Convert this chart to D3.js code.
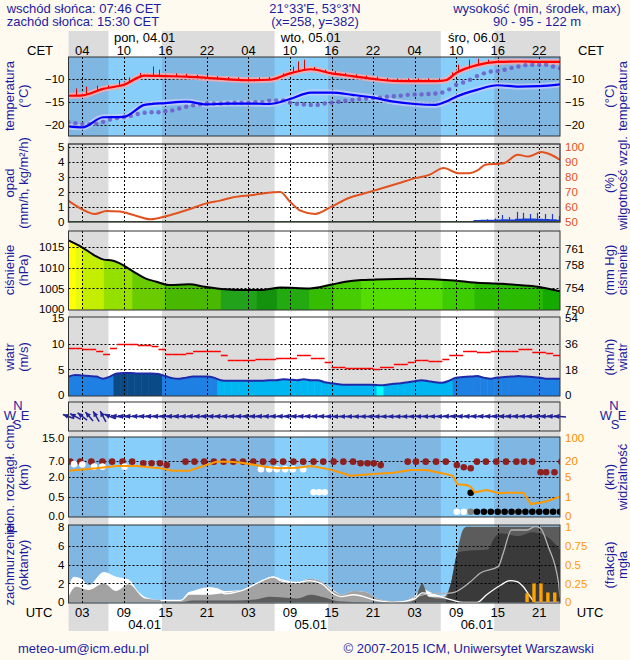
<!DOCTYPE html>
<html><head><meta charset="utf-8">
<script src="https://d3js.org/d3.v7.min.js"></script>
<style>body{margin:0;background:#fffaf0;} svg{display:block;}</style>
</head><body>
<svg id="c" width="630" height="660"></svg>
<script>
// ---------------- DATA ----------------
const hourTicks=[3,9,15,21,27,33,39,45,51,57,63,69];
const cetLabels=["04","10","16","22","04","10","16","22","04","10","16","22"];
const utcLabels=["03","09","15","21","03","09","15","21","03","09","15","21"];
const dayNoonHours=[12,36,60];
const dayNamesTop=["pon, 04.01","wto, 05.01","śro, 06.01"];
const dayNamesBottom=["04.01","05.01","06.01"];
const daylight=[[6.77,14.5],[30.77,38.5],[54.77,62.5]];

// temperature (°C)
const tempHours=[1,3,6,9,12,15,18,21,24,27,30,33,36,39,42,45,48,51,54,55.5,57,60,63,66,69,72];
const temp2m=[-13.6,-13.5,-12.1,-11.2,-9.2,-9.3,-9.4,-9.7,-10.0,-10.2,-10.1,-8.7,-7.8,-8.7,-9.3,-9.9,-10.35,-10.4,-10.4,-10.2,-8.6,-6.9,-6.2,-6.1,-6.2,-6.2];
const tempDew=[-20.3,-20.5,-18.3,-18.2,-15.6,-15.2,-14.9,-15.5,-15.3,-15.3,-15.4,-14.3,-12.9,-12.9,-13.4,-14.0,-14.9,-15.4,-15.6,-14.9,-13.8,-12.3,-11.3,-11.6,-11.5,-11.1];
const tempMaxHours=[2.1,3.6,5.1,6.7,8.3,9.8,11.3,13.2,14.1,16.5,18,19.5,21,22.5,24,25.5,27,28.5,30,32,33.5,34.2,35,36.5,38,39.5,41,42.5,44,45.5,47,48.5,50,51.5,53,54.5,56.4,57.3,58.8,60.2,61.6,63];
const tempMax=[-12.0,-11.6,-11.4,-11.3,-10.2,-9.6,-8.6,-7.2,-7.9,-8.7,-8.8,-9.0,-9.1,-9.3,-9.5,-9.6,-9.6,-9.6,-9.5,-8.7,-7.2,-6.1,-5.7,-7.3,-7.9,-8.2,-8.6,-8.9,-9.2,-9.4,-9.7,-9.8,-9.8,-9.8,-9.8,-9.8,-8.5,-6.8,-5.7,-5.5,-5.7,-5.8];
const tempGround=[-19.4,-19.6,-19.8,-19.8,-19.7,-19.3,-18.8,-18.5,-18.3,-18.0,-17.6,-17.3,-17.2,-17.2,-17.0,-16.8,-16.4,-16.0,-15.7,-15.5,-15.3,-15.3,-15.3,-15.2,-15.1,-15.1,-15.1,-15.0,-15.0,-14.7,-14.6,-14.6,-15.1,-15.4,-15.5,-15.6,-15.6,-15.3,-15.1,-14.9,-14.7,-14.5,-14.3,-14.2,-14.1,-14.0,-13.8,-13.7,-13.6,-13.4,-13.3,-13.3,-13.2,-13.1,-12.9,-12.2,-11.2,-10.7,-10.1,-9.3,-8.7,-8.3,-8.2,-7.9,-7.5,-7.2,-6.9,-6.8,-6.8,-6.8,-7.2,-7.6];

// precipitation (mm/h) and relative humidity (%)
const rhHours=[1,2.7,4.8,6.5,8.4,10.4,12.8,15.2,18.1,21,22.9,24.8,27.7,30.6,31.6,33,34.5,36.6,39,41.4,43.8,46.3,48.7,51.1,53.1,55.2,57.3,58.8,60.2,61.2,63.9,65.9,67.4,69.3,70.7,72];
const rhValues=[63.7,58.8,55.0,57.0,56.6,54.3,51.5,53.7,57.7,62.2,63.9,66.2,67.7,69.5,69.7,63.2,57.2,55.0,59.9,65.5,68.8,72.2,75.5,78.9,81.1,85.6,82.2,82.2,84.4,87.8,88.9,94.5,93.3,96.3,94.5,91.1];
const precipHours=[55,56,57,58,59,60,61,62,63,64,65,66,67,68,69,70,71,72];
const precipMean=[0.03,0,0.03,0.02,0.03,0.1,0.12,0.12,0.13,0.15,0.13,0.18,0.2,0.2,0.18,0.16,0.15,0.12];
const precipMaxHours=[61.5,62.6,63.6,64.7,65.8,66.7,67.7,68.7,69.9,70.8,71.8];
const precipMax=[0.15,0.2,0.43,0.3,0.65,0.59,0.5,0.59,0.5,0.5,0.37];

// pressure (hPa)
const pressHours=[1,2.9,5,6.1,7.3,8.4,10.8,12.1,13.7,15.5,18.4,20.7,23.6,26,28.8,31.7,35.8,38.7,41,43.3,45,50.4,56.7,59.6,63.6,66,68.8,72];
const pressValues=[1016.5,1014.9,1012.7,1011.9,1011.7,1011.0,1008.6,1007.4,1006.6,1005.8,1006.0,1005.4,1004.8,1004.6,1004.6,1005.2,1005.0,1005.8,1006.6,1007.0,1007.1,1007.3,1006.9,1006.4,1006.1,1005.8,1005.4,1004.3];
const pressClassHours=[1,2.1,3.0,6.1,10.2,14.9,23.0,28.2,31.1,35.8,39.3,43.3,55,59.6,69.5];
const pressClass=[0,1,2,3,4,5,6,7,6,5,4,3,4,5,6];

// wind (m/s), hourly
const windGust=[9.1,9.1,8.9,8.9,8.7,8.1,9.1,9.9,9.9,9.9,9.8,9.8,9.5,8.9,8.1,8.1,8.1,8.3,8.7,8.7,8.7,8.7,7.8,6.8,6.8,6.8,6.8,7.1,7.1,7.1,7.3,7.3,7.3,7.8,7.8,7.2,7.2,6.4,5.5,5.5,5.2,5.2,5.2,5.2,5.0,5.5,5.5,6.0,6.0,6.4,6.9,6.9,6.7,6.7,7.1,7.8,7.8,8.7,8.7,8.4,8.4,8.7,8.7,8.7,8.7,8.9,8.9,8.5,8.5,8.2,7.9];
const windMean=[3.6,3.9,3.8,3.7,3.6,3.2,3.6,4.2,4.3,4.3,4.2,4.2,4.2,4.1,3.7,3.3,3.2,3.4,3.6,3.6,3.6,3.4,2.9,2.8,2.8,2.8,2.8,2.8,2.8,2.9,2.9,3.1,3.0,2.9,3.1,2.9,2.9,2.5,2.3,2.1,2.0,2.0,2.0,2.0,2.0,1.9,2.0,2.2,2.3,2.5,2.7,2.9,2.7,2.5,2.4,2.8,3.4,3.5,3.6,3.7,3.4,3.2,3.4,3.5,3.6,3.7,3.6,3.5,3.4,3.2,3.2,3.2];
const windDir=[110,118,128,140,150,152,112,100,98,96,95,95,95,95,95,95,95,95,95,95,95,95,95,95,95,95,95,95,95,95,95,95,95,95,95,95,95,95,92,90,90,90,90,90,90,90,90,90,90,90,90,92,92,92,92,95,95,95,95,95,95,95,95,95,95,95,95,95,95,95,95,95];

// visibility (km) and cloud vertical extent dots (km)
const visHours=[1,5,7.9,10.8,14.3,16,18.4,19.5,22.4,24.2,26,29.4,31.2,34,36.1,38.7,41.1,41.6,45.1,48,50.4,52.7,53.9,55.6,56.5,57.2,58.5,59.1,59.7,61.4,63.2,64.3,66.7,67.8,69.8,72];
const visKm=[10.7,13.0,15.2,15.2,13.0,10.7,10.7,13.0,19.4,19.4,18.4,14.6,13.0,13.6,15.2,12.0,7.3,5.9,7.6,8.8,11.4,11.4,9.8,7.3,5.9,3.48,3.34,3.0,1.88,2.34,1.68,1.8,1.8,0.62,0.74,1.0];
const cloudTopDots=[[1.26,6.8],[2.7,6.8],[4.3,6.8],[5.9,6.8],[7.3,6.8],[8.8,6.8],[10.2,6.8],[11.8,6.3],[13.0,6.3],[14.2,6.3],[15.2,5.7],
 [17.9,6.8],[19.2,6.8],[20.6,6.8],[22,6.8],[23.4,6.8],[24.8,6.8],[26.2,6.8],[27.7,6.8],[29.1,6.8],[30.6,6.8],[32,6.8],[33.5,6.8],[34.9,6.8],[36.4,6.8],[37.8,6.8],[39.3,6.8],[40.7,6.8],[42.1,6.8],[43.2,6.3],[44.2,6.3],[45.1,6.3],[46.1,5.7],
 [50,6.8],[51.2,6.8],[52.6,6.8],[54.1,6.8],[55.5,6.8],[57.1,5.7],[58.1,5.0],[59.1,4.7],
 [60,6.8],[61.3,6.8],[62.8,6.8],[64.2,6.8],[65.7,6.8],[66.8,6.8],[68,6.8],[69.2,3.4],[70,3.4],[71.2,3.4],[72.2,6.8]];
const cloudWhiteDots=[[1.8,6.0],[3.0,5.9],[4.7,5.2],[5.9,5.2],[9.1,5.2],[28.8,4.4],[30,4.4],[31.1,4.4],[32.3,4.4],[33.4,4.4],[34.9,4.4],[36.4,0.83],[37.2,0.83],[38,0.83],[57.1,0.11],[58.1,0.11]];
const cloudGrayDots=[[59.1,0.11]];
const cloudBlackDots=[[59.1,0.8],[60,0.11],[61,0.11],[62,0.11],[63,0.11],[64,0.11],[65,0.11],[66,0.11],[67,0.11],[68,0.11],[69,0.11],[70,0.11],[71,0.11],[72,0.11]];

// cloud cover (oktas) and fog (fraction)
const cloudHigh=[[1,1.7],[1.8,2.7],[3,2.4],[3.9,1.8],[6.1,3.2],[7.9,2.7],[9.7,2.4],[11,1.2],[12,0.6],[14.3,0.25],[17.2,0.25],[18.4,1.1],[20,1.3],[21.3,1.6],[22.5,1.5],[23.6,1.2],[25.9,1.3],[28.2,2.0],[30.6,2.7],[31.7,2.3],[34,2.1],[35.8,2.5],[37.5,2.2],[39.3,1.3],[40.4,0.8],[42.2,1.2],[43.9,1.1],[45.6,0.4],[48,0.1],[49.1,0.1],[50.9,0.6],[52.1,1.4],[53.2,1.1],[55,0.7],[56.1,1.2],[57.3,4.5],[58.5,7.8],[59.6,8],[72,8]];
const cloudMid=[[1,0.6],[2.1,1.65],[3.9,1.3],[6.1,2.0],[7.9,1.2],[9.7,1.9],[12,0.4],[14.3,0.25],[17.2,0.25],[18.4,0.8],[21.3,0.8],[23.6,1.0],[25.9,1.3],[28.2,2.0],[30.6,2.6],[31.7,2.2],[34,2.0],[35.8,2.5],[37.5,2.2],[39.3,1.2],[40.4,0.8],[42.2,1.2],[43.9,1.1],[45.6,0.4],[48,0.1],[49.1,0.1],[50.9,0.4],[52.1,0.9],[53.2,0.6],[55,0.6],[56.1,1.0],[57.3,4.5],[58.5,7.8],[59.6,8],[72,8]];
const cloudLow=[[1,0],[17,0],[19,0.2],[25,0.2],[28,0.3],[30,0.6],[32,0.5],[34,0.4],[36,0.8],[38,0.5],[40,0.1],[44,0],[50,0],[51,0.3],[52.1,2.0],[53,0.6],[55,0.4],[56.4,2.5],[57.2,5.5],[58,7.7],[58.5,8],[72,8]];
const cloudDense=[[55.5,0],[56.4,2.5],[57.2,5.2],[58,5.4],[60,5.5],[61.6,5.6],[62.5,6.8],[63.5,7.3],[66,7.0],[68,7.4],[70,7.0],[71.5,6.0],[72,5.5]];
const cloudLineWhite=[[14.3,0.2],[17.2,0.2],[18.4,0.9],[21.3,1.5],[22.5,1.4],[23.6,0.9],[25.9,1.2],[28.2,2.0],[30.6,2.7],[31.7,2.4],[34,2.1],[35.8,2.3],[37.5,2.0],[39.3,0.9],[40.4,0.6],[42.2,0.8],[45.6,0.2],[48,0],[50.9,0.3],[52.1,1.0],[53.3,0.9],[54.7,0.6],[56.6,0.2],[58,0],[60,0],[61.4,0.8],[63.4,1.8],[64.8,2.3],[65.8,2.2],[66.7,1.65],[67.7,0.6],[68.4,0],[72,0]];
const cloudLineGray=[[50,0.3],[53,0.9],[56.4,1.0],[59.1,2.2],[60.5,3.1],[63.1,3.8],[63.8,5.2],[65,7.65],[67.2,7.65],[68.4,8.0],[69.1,7.9],[70.3,5.9],[71.8,2.0],[72,0.5]];
const fogHours=[67,68,69,70,71];
const fogFraction=[0.12,0.25,0.25,0.13,0.13];

// ---------------- DRAWING ----------------
const FONT='"Liberation Sans", Arial, sans-serif';
const NAVY="#1c1ca0";
const svg=d3.select("#c").attr("font-family",FONT);
const defs=svg.append("defs");
const X0=68.5,X1=560;
const x=d3.scaleLinear().domain([1,72]).range([X0,X1]);
const px=t=>Math.round(x(t))+0.5;

const nights=[];let s0=1;daylight.forEach(d=>{nights.push([s0,d[0]]);s0=d[1];});nights.push([s0,72]);

svg.append("rect").attr("x",X0).attr("y",31).attr("width",X1-X0).attr("height",600).attr("fill","#fff");
svg.append("g").selectAll("rect").data(nights).join("rect")
 .attr("x",d=>x(d[0])).attr("y",31).attr("width",d=>x(d[1])-x(d[0])).attr("height",600).attr("fill","#dcdcdc");

const P={temp:[57,136],prec:[144,222],pres:[231,310],wind:[317,396],dir:[402,431],vis:[437,517],cld:[525,603]};
function makePanel(key,blue){
  const [top,bot]=P[key];
  defs.append("clipPath").attr("id","cp-"+key).append("rect").attr("x",X0).attr("y",top).attr("width",X1-X0).attr("height",bot-top);
  const g=svg.append("g");
  g.append("rect").attr("x",X0).attr("y",top).attr("width",X1-X0).attr("height",bot-top).attr("fill",blue?"#87cefa":"#fff");
  g.append("g").selectAll("rect").data(nights).join("rect").attr("x",d=>x(d[0])).attr("y",top)
   .attr("width",d=>x(d[1])-x(d[0])).attr("height",bot-top).attr("fill",blue?"#7fb6e2":"#dcdcdc");
  const content=g.append("g").attr("clip-path",`url(#cp-${key})`);
  return {g,content,top,bot};
}
function grid(pn,yVals,y){
  const gg=pn.content.append("g").attr("stroke","#000").attr("stroke-width",1).attr("stroke-dasharray","2,2").attr("fill","none");
  gg.selectAll(null).data(hourTicks).join("line").attr("x1",d=>px(d)).attr("x2",d=>px(d)).attr("y1",pn.top).attr("y2",pn.bot);
  if(yVals) gg.selectAll(null).data(yVals).join("line").attr("x1",X0).attr("x2",X1)
    .attr("y1",d=>Math.round(y(d))+0.5).attr("y2",d=>Math.round(y(d))+0.5);
}
function border(pn,w){pn.g.append("rect").attr("x",X0).attr("y",pn.top).attr("width",X1-X0).attr("height",pn.bot-pn.top)
  .attr("fill","none").attr("stroke","#333").attr("stroke-width",w||1);}
function axis(pn,y,vals,side,color,fmt){
  const a=(side==="L"?d3.axisLeft(y):d3.axisRight(y)).tickValues(vals).tickSize(0).tickPadding(side==="L"?4:5);
  a.tickFormat(fmt||d3.format("d"));
  const ga=pn.g.append("g").attr("transform",`translate(${side==="L"?X0:X1},0)`).call(a)
   .attr("font-size",11.5).attr("font-family",FONT).attr("color",color||"#000");
  ga.select(".domain").remove();
}
function vlabel(text,cx,cy,color){
  svg.append("text").attr("transform",`translate(${cx},${cy}) rotate(-90)`).attr("text-anchor","middle")
   .attr("dominant-baseline","central").attr("font-size",13).attr("fill",color||NAVY).text(text);
}
function labels(l1,l2,r1,r2,cy){vlabel(l1,9,cy);vlabel(l2,23,cy);vlabel(r1,609,cy);vlabel(r2,622,cy);}

// ---- temperature ----
const pT=makePanel("temp",true);
const yT=d3.scaleLinear().domain([-22.4,-5.12]).range([136,57]);
grid(pT,[-10,-15,-20],yT);
const lineT=d3.line().x(d=>x(d[0])).y(d=>yT(d[1])).curve(d3.curveMonotoneX);
const redPts=tempHours.map((h,i)=>[h,temp2m[i]]), bluePts=tempHours.map((h,i)=>[h,tempDew[i]]);
pT.content.append("path").attr("d",lineT(bluePts)).attr("fill","none").attr("stroke","#c4cdfa").attr("stroke-width",6).attr("opacity",0.8);
pT.content.append("path").attr("d",lineT(redPts)).attr("fill","none").attr("stroke","#ffaaaa").attr("stroke-width",6).attr("opacity",0.8);
const redAt=d3.scaleLinear().domain(tempHours).range(temp2m);
pT.content.append("g").selectAll("line").data(tempMaxHours).join("line")
 .attr("x1",d=>px(d)).attr("x2",d=>px(d)).attr("y1",d=>yT(redAt(d))).attr("y2",(d,i)=>yT(tempMax[i]))
 .attr("stroke","#e00000").attr("stroke-width",1);
pT.content.append("g").selectAll("circle").data(tempGround).join("circle")
 .attr("cx",(d,i)=>x(i+1)).attr("cy",d=>yT(d)).attr("r",2.2).attr("fill","#6a5cc8").attr("opacity",0.85);
pT.content.append("path").attr("d",lineT(bluePts)).attr("fill","none").attr("stroke","#0000ff").attr("stroke-width",2.2);
pT.content.append("path").attr("d",lineT(redPts)).attr("fill","none").attr("stroke","#ff0000").attr("stroke-width",2.2);
border(pT);
axis(pT,yT,[-10,-15,-20],"L");axis(pT,yT,[-10,-15,-20],"R");
labels("temperatura","(°C)","(°C)","temperatura",96);

// ---- precipitation / humidity ----
const pP=makePanel("prec",false);
const yP=d3.scaleLinear().domain([0,5]).range([221.5,146.5]);
const yRH=d3.scaleLinear().domain([50,100]).range([221.5,146.5]);
grid(pP,[1,2,3,4,5],yP);
pP.content.append("path").attr("d",d3.area().x((d,i)=>x(precipHours[i])).y0(yP(0)).y1(d=>yP(d)).curve(d3.curveStep)(precipMean)).attr("fill","#1c3fd2");
pP.content.append("g").selectAll("line").data(precipMax).join("line")
 .attr("x1",(d,i)=>px(precipMaxHours[i])).attr("x2",(d,i)=>px(precipMaxHours[i])).attr("y1",yP(0)).attr("y2",d=>yP(d))
 .attr("stroke","#1c3fd2").attr("stroke-width",1.2);
pP.content.append("path").attr("d",d3.line().x((d,i)=>x(rhHours[i])).y(d=>yRH(d)).curve(d3.curveMonotoneX)(rhValues))
 .attr("fill","none").attr("stroke","#e2521e").attr("stroke-width",2);
pP.g.append("line").attr("x1",X0).attr("x2",X1).attr("y1",221.5).attr("y2",221.5).attr("stroke","#2f5f2f").attr("stroke-width",1.2);
border(pP,1.3);
axis(pP,yP,[0,1,2,3,4,5],"L");axis(pP,yRH,[50,60,70,80,90,100],"R","#e2521e");
labels("opad","(mm/h, kg/m²/h)","(%)","wilgotność wzgl.",183);

// ---- pressure ----
const pR=makePanel("pres",false);
const yPr=d3.scaleLinear().domain([1000,1015]).range([309.3,246.7]);
const yMM=d3.scaleLinear().domain([1000/1.33322,1015/1.33322]).range([309.3,246.7]);
const pressPts=pressHours.map((h,i)=>[h,pressValues[i]]);
const areaPr=d3.area().x(d=>x(d[0])).y0(pR.bot).y1(d=>yPr(d[1])).curve(d3.curveMonotoneX);
defs.append("clipPath").attr("id","cp-parea").append("path").attr("d",areaPr(pressPts));
const pressPalette=["#ffff00","#e6fa10","#c4ee00","#96e000","#6acc00","#48b800","#22a21a","#14920e","#22aa10","#36bc00","#46cc00","#55dc00","#3ccc00","#2aba00","#14aa00"];
pR.content.append("g").attr("clip-path","url(#cp-parea)").selectAll("rect").data(pressClassHours).join("rect")
 .attr("x",d=>x(d)).attr("y",pR.top).attr("height",pR.bot-pR.top)
 .attr("width",(d,i)=>x(i<pressClassHours.length-1?pressClassHours[i+1]:72)-x(d)+0.5)
 .attr("fill",(d,i)=>pressPalette[i]);
grid(pR,[1005,1010,1015],yPr);
pR.content.append("path").attr("d",d3.line().x(d=>x(d[0])).y(d=>yPr(d[1])).curve(d3.curveMonotoneX)(pressPts))
 .attr("fill","none").attr("stroke","#000").attr("stroke-width",2);
border(pR);
axis(pR,yPr,[1000,1005,1010,1015],"L");axis(pR,yMM,[750,754,758,761],"R");
labels("ciśnienie","(hPa)","(mm Hg)","ciśnienie",270);

// ---- wind ----
const pW=makePanel("wind",false);
const yW=d3.scaleLinear().domain([0,15]).range([395,318.3]);
const yKmh=d3.scaleLinear().domain([0,54]).range([395,318.3]);
const windArea=d3.area().x((d,i)=>x(i+1)).y0(pW.bot).y1(d=>yW(d)).curve(d3.curveMonotoneX);
defs.append("clipPath").attr("id","cp-warea").append("path").attr("d",windArea(windMean));
const windColor=v=>v>=4.1?"#0a4a86":v>=3.2?"#1f80e4":v>=2.0?"#00b6f2":"#00ffff";
pW.content.append("g").attr("clip-path","url(#cp-warea)").selectAll("rect").data(windMean).join("rect")
 .attr("x",(d,i)=>x(Math.max(1,i+0.5))).attr("y",pW.top).attr("height",pW.bot-pW.top)
 .attr("width",(d,i)=>x(Math.min(72,i+1.5))-x(Math.max(1,i+0.5))+0.5).attr("fill",d=>windColor(d));
grid(pW,[5,10],yW);
pW.content.append("path").attr("d",d3.line().x((d,i)=>x(i+1)).y(d=>yW(d)).curve(d3.curveMonotoneX)(windMean))
 .attr("fill","none").attr("stroke","#1f2aa8").attr("stroke-width",2);
pW.content.append("g").selectAll("line").data(windGust).join("line")
 .attr("x1",(d,i)=>x(i+1)).attr("x2",(d,i)=>x(i+2)).attr("y1",d=>Math.round(yW(d))+0.5).attr("y2",d=>Math.round(yW(d))+0.5)
 .attr("stroke","#ff0000").attr("stroke-width",1.3);
border(pW);
axis(pW,yW,[0,5,10,15],"L");axis(pW,yKmh,[0,18,36,54],"R");
labels("wiatr","(m/s)","(km/h)","wiatr",357);

// ---- wind direction ----
const pD=makePanel("dir",false);
grid(pD,null,null);
const cyD=416.5, L=12;
const arr=pD.g.append("g").attr("fill","#22229a").attr("stroke","#22229a");
windDir.forEach((d,i)=>{
  const th=(d+180)*Math.PI/180, vx=Math.sin(th), vy=-Math.cos(th);
  const cx=x(i+1);
  const tx=cx+vx*L/2, ty=cyD+vy*L/2, bx=cx-vx*L/2, by=cyD-vy*L/2;
  arr.append("line").attr("x1",bx).attr("y1",by).attr("x2",tx).attr("y2",ty).attr("stroke-width",1.5);
  const hx=tx-vx*5.5, hy=ty-vy*5.5, nx=-vy, ny=vx;
  arr.append("path").attr("d",`M${tx},${ty}L${hx+nx*2.6},${hy+ny*2.6}L${hx-nx*2.6},${hy-ny*2.6}Z`).attr("stroke","none");
});
border(pD);
[[18,"N",405],[10,"W",415],[25,"E",415],[17,"S",424],[614,"N",405],[606,"W",415],[622,"E",415],[615,"S",424]].forEach(c=>{
  svg.append("text").attr("x",c[0]).attr("y",c[2]).attr("text-anchor","middle").attr("dominant-baseline","central")
   .attr("font-size",13).attr("fill",NAVY).text(c[1]);
});

// ---- visibility / cloud extent ----
const pV=makePanel("vis",true);
const yV=d3.scaleLinear().domain([0,0.5,2,7,15]).range([516,496.7,476.7,461,438.3]);
const yVis=d3.scaleLinear().domain([0,1,5,20,100]).range([516,496.7,476.7,461,438.3]);
grid(pV,[0.5,2,7],yV);
const dotG=pV.content.append("g");
[[cloudTopDots,"#8e1f1f"],[cloudWhiteDots,"#ffffff"],[cloudGrayDots,"#808080"],[cloudBlackDots,"#000000"]].forEach(([arrD,col])=>{
  dotG.append("g").selectAll("circle").data(arrD).join("circle").attr("cx",d=>x(d[0])).attr("cy",d=>yV(d[1])).attr("r",3.3).attr("fill",col);
});
pV.content.append("path").attr("d",d3.line().x((d,i)=>x(visHours[i])).y(d=>yVis(d))(visKm))
 .attr("fill","none").attr("stroke","#ff9900").attr("stroke-width",2);
border(pV);
axis(pV,yV,[0,0.5,2,7,15],"L","#000",d3.format(".1f"));axis(pV,yVis,[0,1,5,20,100],"R","#ff8c00");
labels("pion. rozciągł. chm.","(km)","(km)","widzialność",477);

// ---- cloud cover ----
const pC=makePanel("cld",true);
const yC=d3.scaleLinear().domain([0,8]).range([602.3,526.7]);
const yF=d3.scaleLinear().domain([0,1]).range([602.3,526.7]);
const areaC=d3.area().x(d=>x(d[0])).y0(yC(0)).y1(d=>yC(d[1])).curve(d3.curveMonotoneX);
[[cloudHigh,"#ffffff"],[cloudMid,"#a2a2a2"],[cloudLow,"#5c5c5c"],[cloudDense,"#3a3a3a"]].forEach(([dat,col])=>{
  pC.content.append("path").attr("d",areaC(dat)).attr("fill",col);
});
grid(pC,[2,4,6],yC);
const lineC=d3.line().x(d=>x(d[0])).y(d=>yC(d[1])).curve(d3.curveMonotoneX);
pC.content.append("path").attr("d",lineC(cloudLineGray)).attr("fill","none").attr("stroke","#b4b4b4").attr("stroke-width",1.3);
pC.content.append("path").attr("d",lineC(cloudLineWhite)).attr("fill","none").attr("stroke","#ffffff").attr("stroke-width",1.3);
pC.content.append("g").selectAll("rect").data(fogFraction).join("rect")
 .attr("x",(d,i)=>x(fogHours[i])).attr("width",3.4).attr("y",d=>yF(d)).attr("height",d=>yF(0)-yF(d)).attr("fill","#ffa200");
border(pC);
axis(pC,yC,[0,2,4,6,8],"L");axis(pC,yF,[0,0.25,0.5,0.75,1],"R","#ff9900",d=>String(d));
labels("zachmurzenie","(oktanty)","(frakcja)","mgła",565);

// ---- time labels ----
const tl=svg.append("g").attr("font-size",13).attr("fill","#000").attr("text-anchor","middle");
tl.selectAll(null).data(hourTicks).join("text").attr("x",d=>x(d)).attr("y",55).text((d,i)=>cetLabels[i]);
tl.selectAll(null).data(dayNoonHours).join("text").attr("x",d=>x(d)).attr("y",42).text((d,i)=>dayNamesTop[i]);
tl.selectAll(null).data(hourTicks).join("text").attr("x",d=>x(d)).attr("y",617).text((d,i)=>utcLabels[i]);
tl.selectAll(null).data(dayNoonHours).join("text").attr("x",d=>x(d)).attr("y",629).text((d,i)=>dayNamesBottom[i]);
tl.append("text").attr("x",40).attr("y",55).text("CET");
tl.append("text").attr("x",591).attr("y",55).text("CET");
tl.append("text").attr("x",39).attr("y",617).text("UTC");
tl.append("text").attr("x",590).attr("y",617).text("UTC");

// ---- header & footer ----
const hd=svg.append("g").attr("font-size",13).attr("fill",NAVY).attr("text-anchor","middle");
hd.append("text").attr("x",84).attr("y",13).text("wschód słońca: 07:46 CET");
hd.append("text").attr("x",83).attr("y",26).text("zachód słońca: 15:30 CET");
hd.append("text").attr("x",315).attr("y",13).text("21°33'E, 53°3'N");
hd.append("text").attr("x",315).attr("y",26).text("(x=258, y=382)");
hd.append("text").attr("x",537).attr("y",13).text("wysokość (min, środek, max)");
hd.append("text").attr("x",537).attr("y",26).text("90 - 95 - 122 m");
hd.append("text").attr("x",18).attr("y",653).attr("text-anchor","start").text("meteo-um@icm.edu.pl");
hd.append("text").attr("x",594).attr("y",653).attr("text-anchor","end").text("© 2007-2015 ICM, Uniwersytet Warszawski");
</script>
</body></html>
